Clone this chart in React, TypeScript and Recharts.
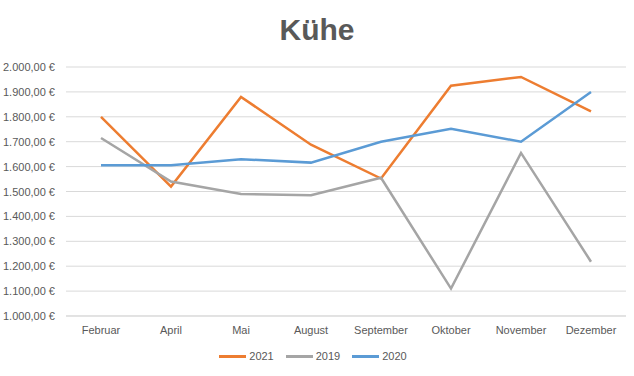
import { LineChart, Line, XAxis, YAxis, CartesianGrid, Legend } from "recharts";

// Monatswerte pro Jahr
const months = ["Februar", "April", "Mai", "August", "September", "Oktober", "November", "Dezember"];
const values2021 = [1800, 1520, 1880, 1688, 1552, 1925, 1960, 1822];
const values2019 = [1715, 1540, 1490, 1485, 1555, 1110, 1655, 1218];
const values2020 = [1605, 1605, 1630, 1616, 1700, 1752, 1700, 1900];
const yTicks = [1000, 1100, 1200, 1300, 1400, 1500, 1600, 1700, 1800, 1900, 2000];

const series = [
  { key: "y2021", name: "2021", color: "#ED7D31" },
  { key: "y2019", name: "2019", color: "#A5A5A5" },
  { key: "y2020", name: "2020", color: "#5B9BD5" },
];

const data = months.map((m, i) => ({
  month: m,
  y2021: values2021[i],
  y2019: values2019[i],
  y2020: values2020[i],
}));

const FONT = "'Liberation Sans', Arial, sans-serif";
const TEXT = "#595959";

const euro = (v: number) =>
  v.toLocaleString("de-DE", { minimumFractionDigits: 2, maximumFractionDigits: 2 }) + " €";

// plain <text> ticks so recharts doesn't wrap the labels
function YTick(props: any) {
  const { x, y, payload } = props;
  return (
    <text x={x} y={y} dy={4} textAnchor="end" fill={TEXT} fontSize={11} fontFamily={FONT}>
      {euro(payload.value)}
    </text>
  );
}

function XTick(props: any) {
  const { x, y, payload } = props;
  return (
    <text x={x} y={y} dy={8} textAnchor="middle" fill={TEXT} fontSize={11} fontFamily={FONT}>
      {payload.value}
    </text>
  );
}

function LegendRow() {
  return (
    <div style={{ display: "flex", justifyContent: "center", gap: 12, fontFamily: FONT, fontSize: 11, color: TEXT }}>
      {series.map((s) => (
        <div key={s.key} style={{ display: "flex", alignItems: "center" }}>
          <div style={{ width: 27, height: 3, background: s.color, marginRight: 3 }} />
          <span>{s.name}</span>
        </div>
      ))}
    </div>
  );
}

export default function App() {
  return (
    <div style={{ position: "absolute", left: 0, top: 0, width: 634, height: 376, background: "#fff" }}>
      <div
        style={{
          position: "absolute",
          top: 13,
          width: 634,
          textAlign: "center",
          fontFamily: FONT,
          fontWeight: "bold",
          fontSize: 30,
          color: TEXT,
        }}
      >
        Kühe
      </div>
      <LineChart width={634} height={376} data={data} margin={{ top: 67, right: 8, bottom: 6, left: 0 }}>
        <CartesianGrid vertical={false} stroke="#d9d9d9" />
        <XAxis
          dataKey="month"
          tickLine={false}
          axisLine={{ stroke: "#d9d9d9" }}
          tick={<XTick />}
          tickMargin={4}
          height={34}
          interval={0}
          padding={{ left: 35, right: 35 }}
        />
        <YAxis
          width={66}
          domain={[1000, 2000]}
          ticks={yTicks}
          tickLine={false}
          axisLine={false}
          tickMargin={5}
          tick={<YTick />}
        />
        <Legend verticalAlign="bottom" height={20} content={() => <LegendRow />} />
        {series.map((s) => (
          <Line
            key={s.key}
            type="linear"
            dataKey={s.key}
            name={s.name}
            stroke={s.color}
            strokeWidth={2.5}
            dot={false}
            activeDot={false}
            isAnimationActive={false}
          />
        ))}
      </LineChart>
    </div>
  );
}
